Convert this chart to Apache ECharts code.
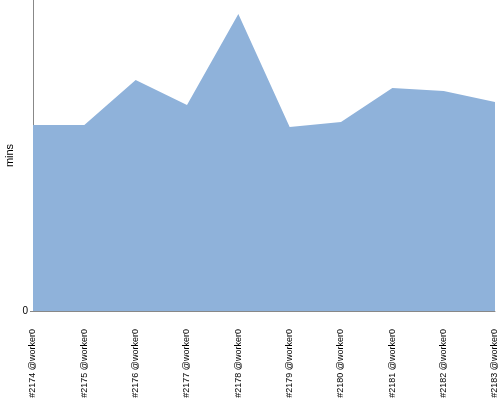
<!DOCTYPE html>
<html><head><meta charset="utf-8">
<script src="https://cdn.jsdelivr.net/npm/echarts@6/dist/echarts.min.js"></script>
<style>html,body{margin:0;padding:0;background:#fff}#c{width:500px;height:400px}</style>
</head><body><div id="c"></div>
<script>
const categories = ['#2174 @worker0','#2175 @worker0','#2176 @worker0','#2177 @worker0','#2178 @worker0','#2179 @worker0','#2180 @worker0','#2181 @worker0','#2182 @worker0','#2183 @worker0'];
const values = [18.6, 18.6, 23.1, 20.6, 29.7, 18.4, 18.9, 22.3, 22.0, 20.9];
const yMax = 31.1;
const chart = echarts.init(document.getElementById('c'));
chart.setOption({
  animation: false,
  grid: {left: 33, right: 5, top: 0, bottom: 89, containLabel: false, outerBoundsMode: 'none'},
  xAxis: {
    type: 'category', data: categories, boundaryGap: false,
    axisLine: {lineStyle: {color: '#888', width: 1}},
    axisTick: {show: false},
    axisLabel: {rotate: 90, interval: 0, fontSize: 9, color: '#000', margin: 18, fontFamily: 'Liberation Sans'}
  },
  yAxis: {
    type: 'value', min: 0, max: yMax,
    name: 'mins', nameLocation: 'middle', nameGap: 18, nameRotate: 90, nameMoveOverlap: false,
    nameTextStyle: {fontSize: 11, color: '#000', fontFamily: 'Liberation Sans'},
    axisLine: {show: true, lineStyle: {color: '#888', width: 1}},
    axisTick: {show: true, length: 3, lineStyle: {color: '#888'}, customValues: [0]},
    splitLine: {show: false},
    axisLabel: {fontSize: 10, color: '#000', margin: 5, fontFamily: 'Liberation Sans', customValues: [0]}
  },
  series: [{
    type: 'line', data: values, symbol: 'none',
    lineStyle: {width: 0, color: '#8fb2da'},
    areaStyle: {color: '#8fb2da', opacity: 1}
  }]
});
</script></body></html>
